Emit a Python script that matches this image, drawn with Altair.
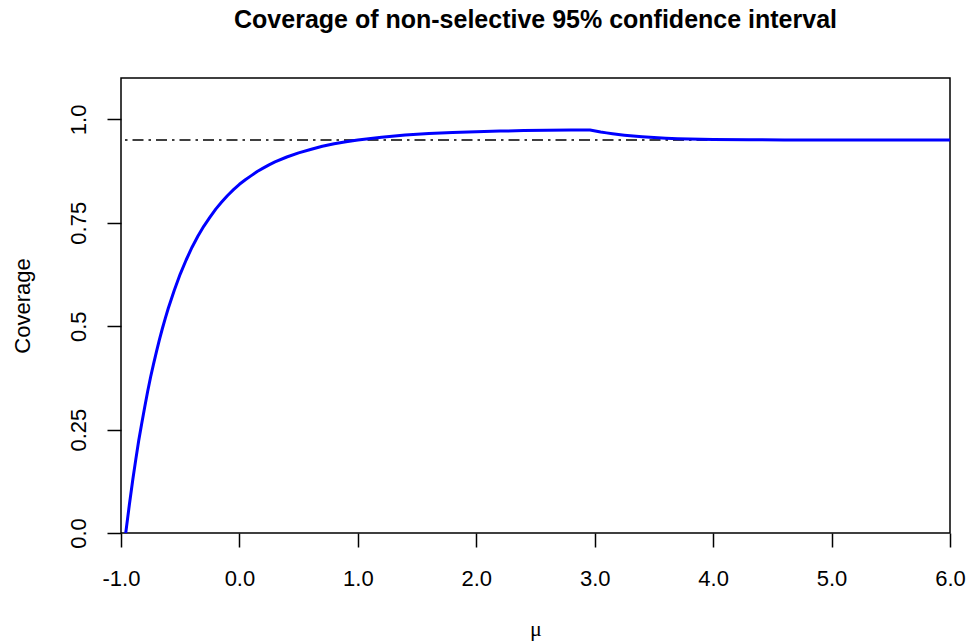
import altair as alt
import pandas as pd

# values
mu = [-0.96, -0.93, -0.9, -0.875, -0.85, -0.825, -0.8, -0.775, -0.75, -0.725, -0.7,
      -0.675, -0.65, -0.625, -0.6, -0.55, -0.5, -0.45, -0.4, -0.35, -0.3, -0.25, -0.2,
      -0.15, -0.1, -0.05, 0.0, 0.05, 0.1, 0.15, 0.2, 0.25, 0.3, 0.4, 0.5, 0.6, 0.7,
      0.8, 0.9, 1.0, 1.2, 1.4, 1.6, 1.8, 2.0, 2.2, 2.4, 2.6, 2.8, 2.96, 3.05, 3.1,
      3.15, 3.2, 3.25, 3.3, 3.4, 3.5, 3.6, 3.7, 3.8, 4.0, 4.3, 4.6, 5.0, 5.5, 6.0]
coverage = [0.0, 0.067, 0.13, 0.178, 0.224, 0.265, 0.304, 0.342, 0.377, 0.409, 0.439,
            0.468, 0.495, 0.520, 0.544, 0.587, 0.626, 0.660, 0.691, 0.718, 0.742, 0.763,
            0.783, 0.800, 0.816, 0.830, 0.843, 0.854, 0.864, 0.874, 0.882, 0.890, 0.897,
            0.909, 0.919, 0.927, 0.935, 0.941, 0.946, 0.950, 0.957, 0.962, 0.9656, 0.968,
            0.9703, 0.9717, 0.9728, 0.9735, 0.9741, 0.9744, 0.9696, 0.9673, 0.9653,
            0.9634, 0.9618, 0.9603, 0.9579, 0.956, 0.9545, 0.9533, 0.9525, 0.9513,
            0.9506, 0.9502, 0.95, 0.95, 0.95]
nominal = [0.95]
x_ticks = [-1, 0, 1, 2, 3, 4, 5, 6]
y_ticks = [0, 0.25, 0.5, 0.75, 1.0]
y_tick_labels = ["0.0", "0.25", "0.5", "0.75", "1.0"]

df = pd.DataFrame({"mu": mu, "coverage": coverage})
ref = pd.DataFrame({"y": nominal})

W, H = 829, 455
FONT = "Liberation Sans"

y_label_expr = "".join([f"datum.value == {v} ? '{l}' : " for v, l in zip(y_ticks, y_tick_labels)]) + "''"
x_label_expr = "datum.value < 0 ? '-' + format(-datum.value, '.1f') : format(datum.value, '.1f')"

x_scale = alt.Scale(domain=[-1, 6], nice=False, zero=False)
y_scale = alt.Scale(domain=[0, 1.1], nice=False, zero=False)

x_axis = alt.Axis(values=x_ticks, labelExpr=x_label_expr, grid=False, domain=False,
                  tickSize=14, tickWidth=1.5, tickColor="black",
                  labelFont=FONT, labelFontSize=22, labelColor="black",
                  labelPadding=21, labelBaseline="top", labelFlush=False,
                  title="μ", titleFont="Liberation Serif", titleFontSize=22,
                  titleFontWeight="normal", titleColor="black",
                  titleX=W / 2, titleY=102, titleBaseline="alphabetic", titleAlign="center")
y_axis = alt.Axis(values=y_ticks, labelExpr=y_label_expr, grid=False, domain=False,
                  tickSize=14, tickWidth=1.5, tickColor="black",
                  labelFont=FONT, labelFontSize=22, labelColor="black",
                  labelAngle=270, labelAlign="center", labelBaseline="alphabetic",
                  labelPadding=22, labelFlush=False,
                  title="Coverage", titleFont=FONT, titleFontSize=22,
                  titleFontWeight="normal", titleColor="black",
                  titleAngle=270, titleX=-91.5, titleY=H / 2,
                  titleBaseline="alphabetic", titleAlign="center")

line = alt.Chart(df).mark_line(color="#0000FF", strokeWidth=3, clip=True,
                               strokeJoin="round", strokeCap="round").encode(
    x=alt.X("mu:Q", scale=x_scale, axis=x_axis),
    y=alt.Y("coverage:Q", scale=y_scale, axis=y_axis),
)

rule = alt.Chart(ref).mark_rule(color="black", strokeWidth=1.5,
                                strokeDash=[2.5, 5, 11, 5]).encode(
    y=alt.Y("y:Q", scale=y_scale),
)

chart = alt.layer(rule, line).properties(
    width=W, height=H,
    title=alt.TitleParams("Coverage of non-selective 95% confidence interval",
                          font=FONT, fontSize=25, fontWeight="bold", color="black",
                          anchor="middle", offset=45),
    autosize=alt.AutoSizeParams(type="none"),
    padding={"left": 121, "top": 78, "right": 19, "bottom": 109},
).configure(background="white").configure_view(stroke="black", strokeWidth=1.5)

chart.save("out.html", embed_options={"renderer": "svg", "actions": False})
